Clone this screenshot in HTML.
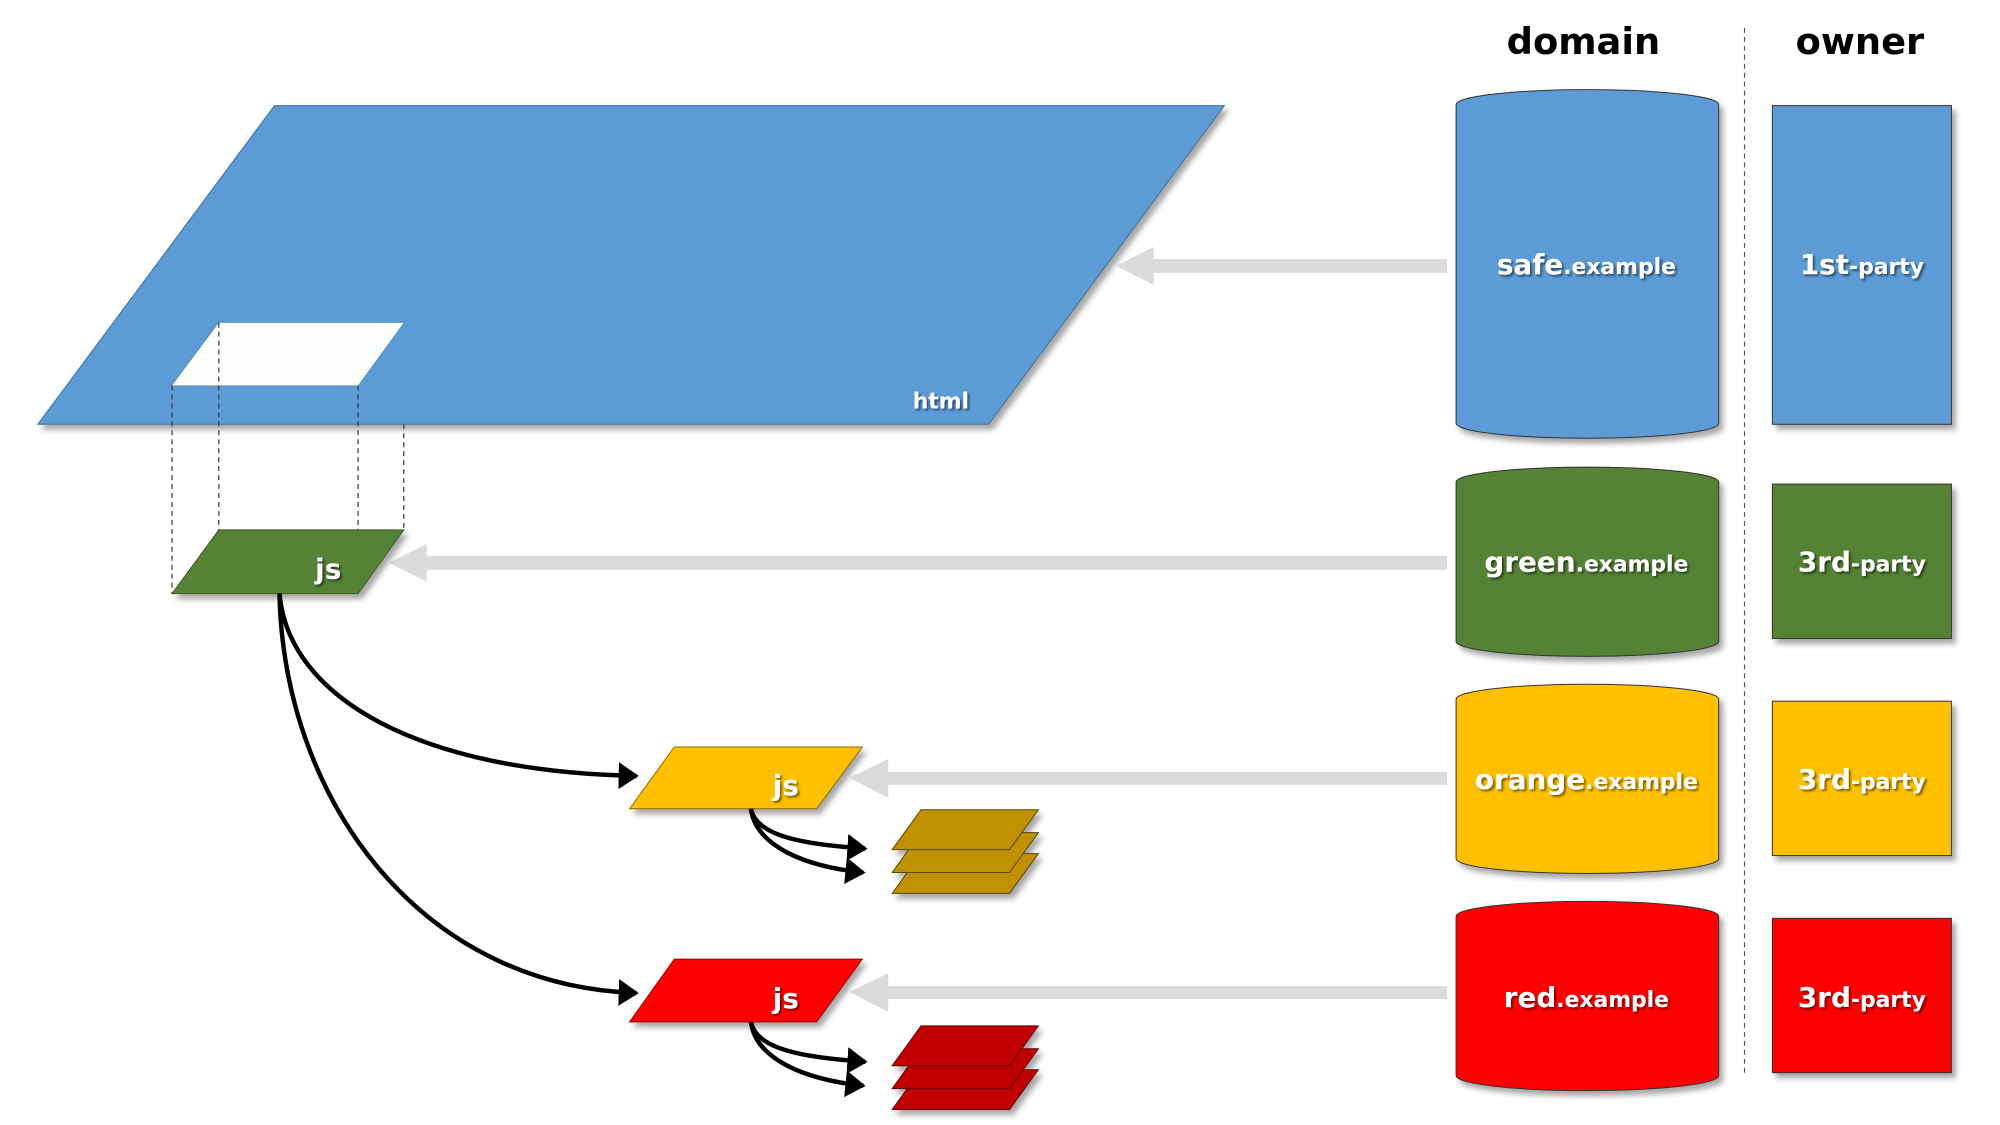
<!DOCTYPE html>
<html><head><meta charset="utf-8"><style>
html,body{margin:0;padding:0;background:#fff;}
svg{display:block;}
text{font-family:"DejaVu Sans","Liberation Sans",sans-serif;font-weight:bold;}
.lbl{fill:#fff;filter:url(#ts);}
</style></head><body>
<svg width="2000" height="1125" viewBox="0 0 2000 1125" xmlns="http://www.w3.org/2000/svg">
<defs>
<filter id="sh" x="-10%" y="-10%" width="130%" height="140%">
<feDropShadow dx="4" dy="5" stdDeviation="3" flood-color="#000" flood-opacity="0.35"/>
</filter>
<filter id="ts" x="-10%" y="-20%" width="130%" height="160%">
<feDropShadow dx="2" dy="2" stdDeviation="1" flood-color="#000" flood-opacity="0.5"/>
</filter>
<marker id="ah" markerWidth="6" markerHeight="6" refX="4" refY="3" orient="auto" markerUnits="strokeWidth">
<path d="M0,0 L4.5,3 L0,6 z" fill="#000"/>
</marker>
</defs>
<g transform="scale(0.9946,0.996)">
<!-- headers -->
<text x="1592" y="54" font-size="37" text-anchor="middle" fill="#000">domain</text>
<text x="1870" y="54" font-size="37" text-anchor="middle" fill="#000">owner</text>
<line x1="1754" y1="28" x2="1754" y2="1077" stroke="#555" stroke-width="1.2" stroke-dasharray="5,4"/>

<path d="M276,106 L1231,106 L994,426 L38,426 Z M220,324 L173,387 L360,387 L406,324 Z" fill="#5b9bd5" fill-rule="evenodd" stroke="#41719c" stroke-width="1" filter="url(#sh)"/>
<path d="M220,324 L406,324 L360,387 L173,387 Z" fill="#fdfffd"/>
<text x="946" y="410" font-size="22" text-anchor="middle" class="lbl">html</text>

<g stroke="#333" stroke-width="1.2" stroke-dasharray="5,4">
<line x1="173" y1="387" x2="173" y2="596"/>
<line x1="220" y1="324" x2="220" y2="532"/>
<line x1="360" y1="387" x2="360" y2="596"/>
<line x1="406" y1="426" x2="406" y2="532"/>
</g>

<g fill="#d9dbd8">
<path d="M1455,260 L1160,260 L1160,248 L1122,267 L1160,286 L1160,274 L1455,274 Z"/>
<path d="M1455,558 L429,558 L429,546 L391,565 L429,584 L429,572 L1455,572 Z"/>
<path d="M1455,775 L893,775 L893,762 L854,781 L893,801 L893,788 L1455,788 Z"/>
<path d="M1455,990 L893,990 L893,977 L854,996 L893,1016 L893,1003 L1455,1003 Z"/>
</g>

<path d="M220,532 L406,532 L360,596 L173,596 Z" fill="#548235" stroke="#3a5a24" stroke-width="1" filter="url(#sh)"/>
<text x="330" y="581" font-size="28" text-anchor="middle" class="lbl">js</text>

<path d="M678,750 L867,750 L821,812 L633,812 Z" fill="#ffc000" stroke="#8a6a00" stroke-width="1" filter="url(#sh)"/>
<text x="790" y="798" font-size="28" text-anchor="middle" class="lbl">js</text>

<path d="M678,963 L867,963 L821,1026 L633,1026 Z" fill="#ff0000" stroke="#900" stroke-width="1" filter="url(#sh)"/>
<text x="790" y="1012" font-size="28" text-anchor="middle" class="lbl">js</text>

<g fill="#bf9000" stroke="#5a4400" stroke-width="1" filter="url(#sh)">
<path d="M926,857 L1044,857 L1015,897 L897,897 Z"/>
<path d="M926,836 L1044,836 L1015,876 L897,876 Z"/>
<path d="M926,813 L1044,813 L1015,853 L897,853 Z"/>
</g>
<g fill="#c00000" stroke="#600" stroke-width="1" filter="url(#sh)">
<path d="M926,1074 L1044,1074 L1015,1114 L897,1114 Z"/>
<path d="M926,1053 L1044,1053 L1015,1093 L897,1093 Z"/>
<path d="M926,1030 L1044,1030 L1015,1070 L897,1070 Z"/>
</g>

<g fill="none" stroke="#000" stroke-width="4.5">
<path d="M281,596 C290,700 420,775 640,779" marker-end="url(#ah)"/>
<path d="M281,596 C285,800 420,990 640,997" marker-end="url(#ah)"/>
<path d="M755,812 C760,840 810,848 870,852" marker-end="url(#ah)"/>
<path d="M755,812 C760,850 810,870 868,876" marker-end="url(#ah)"/>
<path d="M755,1026 C760,1054 810,1062 870,1066" marker-end="url(#ah)"/>
<path d="M755,1026 C760,1064 810,1084 868,1090" marker-end="url(#ah)"/>
</g>

<g filter="url(#sh)" stroke="#333" stroke-width="1">
<path d="M1464,105 A132,15 0 0 1 1728,105 L1728,425 A132,15 0 0 1 1464,425 Z" fill="#5b9bd5"/>
<path d="M1464,484 A132,15 0 0 1 1728,484 L1728,644 A132,15 0 0 1 1464,644 Z" fill="#548235"/>
<path d="M1464,702 A132,15 0 0 1 1728,702 L1728,862 A132,15 0 0 1 1464,862 Z" fill="#ffc000"/>
<path d="M1464,920 A132,15 0 0 1 1728,920 L1728,1080 A132,15 0 0 1 1464,1080 Z" fill="#ff0000"/>
</g>

<g filter="url(#sh)" stroke="#333" stroke-width="1">
<rect x="1782" y="106" width="180" height="320" fill="#5b9bd5"/>
<rect x="1782" y="486" width="180" height="155" fill="#548235"/>
<rect x="1782" y="704" width="180" height="155" fill="#ffc000"/>
<rect x="1782" y="922" width="180" height="155" fill="#ff0000"/>
</g>

<g class="lbl" text-anchor="middle">
<text x="1595" y="275"><tspan font-size="28">safe</tspan><tspan font-size="22">.example</tspan></text>
<text x="1595" y="574"><tspan font-size="28">green</tspan><tspan font-size="22">.example</tspan></text>
<text x="1595" y="792"><tspan font-size="28">orange</tspan><tspan font-size="22">.example</tspan></text>
<text x="1595" y="1011"><tspan font-size="28">red</tspan><tspan font-size="22">.example</tspan></text>
<text x="1872" y="275"><tspan font-size="28">1st</tspan><tspan font-size="22">-party</tspan></text>
<text x="1872" y="574"><tspan font-size="28">3rd</tspan><tspan font-size="22">-party</tspan></text>
<text x="1872" y="792"><tspan font-size="28">3rd</tspan><tspan font-size="22">-party</tspan></text>
<text x="1872" y="1011"><tspan font-size="28">3rd</tspan><tspan font-size="22">-party</tspan></text>
</g>
</g>
</svg>
</body></html>
